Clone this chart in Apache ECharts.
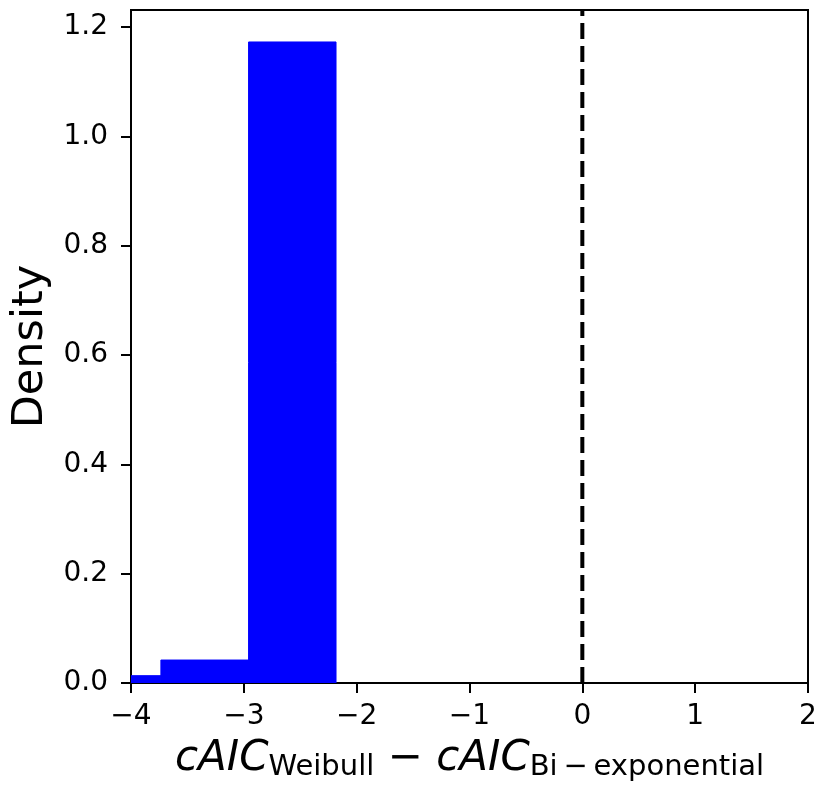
<!DOCTYPE html>
<html>
<head>
<meta charset="utf-8">
<script src="https://cdn.jsdelivr.net/npm/echarts@6/dist/echarts.min.js"></script>
<style>
  html, body { margin: 0; padding: 0; background: #fff; }
  #chart { width: 823px; height: 798px; }
</style>
</head>
<body>
<div id="chart"></div>
<script>
// Histogram bin edges and densities of cAIC(Weibull) - cAIC(Bi-exponential)
const binEdges = [-4.511, -3.735, -2.958, -2.183];
const density = [0.0134, 0.042, 1.1725];
const xTicks = [-4, -3, -2, -1, 0, 1, 2];
const yTicks = [0, 0.2, 0.4, 0.6, 0.8, 1.0, 1.2];
const refLineX = 0;
const yMax = 1.231;

const FONT = 'DejaVu Sans';

const bins = density.map((d, i) => [binEdges[i], binEdges[i + 1], d]);

const chart = echarts.init(document.getElementById('chart'), null, { renderer: 'canvas' });

const fmtMinus = v => {
  const s = Math.abs(v) < 1e-9 ? '0' : String(v);
  return s.replace('-', '\u2212');
};

chart.setOption({
  animation: false,
  backgroundColor: '#ffffff',
  grid: {
    left: 131, right: 15, top: 10, bottom: 115,
    show: true, borderColor: '#000', borderWidth: 2,
    backgroundColor: 'transparent'
  },
  xAxis: {
    type: 'value',
    min: xTicks[0], max: xTicks[xTicks.length - 1], interval: 1,
    axisLine: { show: true, onZero: false, lineStyle: { color: '#000', width: 2 } },
    axisTick: { show: true, length: 10, lineStyle: { color: '#000', width: 2 } },
    splitLine: { show: false },
    axisLabel: {
      formatter: v => fmtMinus(v),
      fontFamily: FONT, fontSize: 28, color: '#000', margin: 20
    },
    name: '{m|cAIC}{s|Weibull}{o| \u2212 }{m|cAIC}{s|Bi\u2009\u2212\u2009exponential}',
    nameLocation: 'middle',
    nameGap: 55,
    nameTextStyle: {
      rich: {
        m: { fontFamily: FONT, fontSize: 42, fontStyle: 'italic', color: '#000', lineHeight: 44, verticalAlign: 'top' },
        o: { fontFamily: FONT, fontSize: 42, color: '#000', lineHeight: 44, verticalAlign: 'top' },
        s: { fontFamily: FONT, fontSize: 29, color: '#000', lineHeight: 15, verticalAlign: 'bottom' }
      }
    }
  },
  yAxis: {
    type: 'value',
    min: 0, max: yMax,
    axisLine: { show: true, onZero: false, lineStyle: { color: '#000', width: 2 } },
    axisTick: { show: true, length: 10, lineStyle: { color: '#000', width: 2 }, customValues: yTicks },
    splitLine: { show: false },
    axisLabel: {
      customValues: yTicks,
      formatter: v => v.toFixed(1),
      fontFamily: FONT, fontSize: 28, color: '#000', margin: 23
    },
    name: 'Density',
    nameLocation: 'middle',
    nameGap: 76,
    nameTextStyle: { fontFamily: FONT, fontSize: 43, color: '#000' }
  },
  series: [
    {
      type: 'custom',
      clip: true,
      data: bins,
      renderItem: (params, api) => {
        const p0 = api.coord([api.value(0), api.value(2)]);
        const p1 = api.coord([api.value(1), 0]);
        return {
          type: 'rect',
          shape: { x: p0[0], y: p0[1], width: p1[0] - p0[0], height: p1[1] - p0[1] },
          style: { fill: '#0000ff', stroke: '#0000ff', lineWidth: 1 }
        };
      },
      z: 2
    },
    {
      type: 'line',
      data: [[refLineX, 0], [refLineX, yMax]],
      symbol: 'none',
      lineStyle: { color: '#000', width: 4, type: [16, 7] },
      clip: true,
      z: 3
    }
  ]
});
</script>
</body>
</html>
